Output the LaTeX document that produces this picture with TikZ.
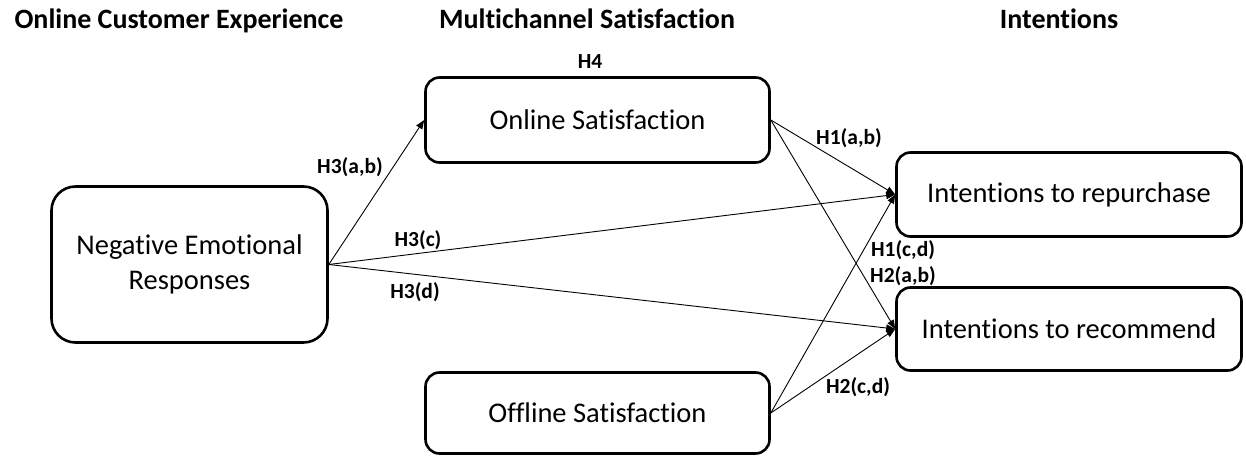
\documentclass[tikz,border=0pt]{standalone}
\usepackage{fontspec}
\setmainfont{Carlito}[Ligatures={NoCommon}]
\usetikzlibrary{arrows.meta}
\begin{document}
\begin{tikzpicture}[x=1pt,y=-1pt,
  box/.style={draw, line width=2.6pt, rounded corners=14pt, inner sep=0pt,
    font=\fontsize{28.5}{35}\selectfont, align=center},
  link/.style={line width=0.9pt, -{Triangle[length=9pt,width=7pt]}},
  hyp/.style={font=\bfseries\fontsize{21.5}{25}\selectfont, inner sep=0pt},
  head/.style={font=\bfseries\fontsize{28}{33}\selectfont, inner sep=0pt, anchor=base}]
\useasboundingbox (0,0) rectangle (1246,457);

% column headings
\node[head] (hOCE) at (179,29) {Online Customer Experience};
\node[head] (hMS)  at (587,29) {Multichannel Satisfaction};
\node[head] (hInt) at (1059,29) {Intentions};

% constructs
\node[box, rounded corners=24pt, minimum width=276pt, minimum height=156pt] (ner) at (189.5,264.5) {Negative Emotional\\Responses};
\node[box, minimum width=344pt, minimum height=85pt] (on)  at (597.5,120) {Online Satisfaction};
\node[box, minimum width=344pt, minimum height=81pt] (off) at (597.5,413) {Offline Satisfaction};
\node[box, minimum width=345pt, minimum height=84pt] (rep) at (1069,194.5) {Intentions to repurchase};
\node[box, minimum width=345pt, minimum height=83pt] (rec) at (1069,329) {Intentions to recommend};

% hypothesised paths
\draw[link] (ner.east) -- (on.west);
\draw[link] (ner.east) -- (rep.west);
\draw[link] (ner.east) -- (rec.west);
\draw[link] (on.east) -- (rep.west);
\draw[link] (on.east) -- (rec.west);
\draw[link] (off.east) -- (rep.west);
\draw[link] (off.east) -- (rec.west);

% hypothesis labels
\node[hyp] (lH4)  at (590,62)  {H4};
\node[hyp] (lH3ab) at (350,167) {H3(a,b)};
\node[hyp] (lH3c) at (418,240) {H3(c)};
\node[hyp] (lH3d) at (415,292) {H3(d)};
\node[hyp] (lH1ab) at (849,138) {H1(a,b)};
\node[hyp] (lH1cd) at (903,250) {H1(c,d)};
\node[hyp] (lH2ab) at (903,276) {H2(a,b)};
\node[hyp] (lH2cd) at (858,387) {H2(c,d)};
\end{tikzpicture}
\end{document}
